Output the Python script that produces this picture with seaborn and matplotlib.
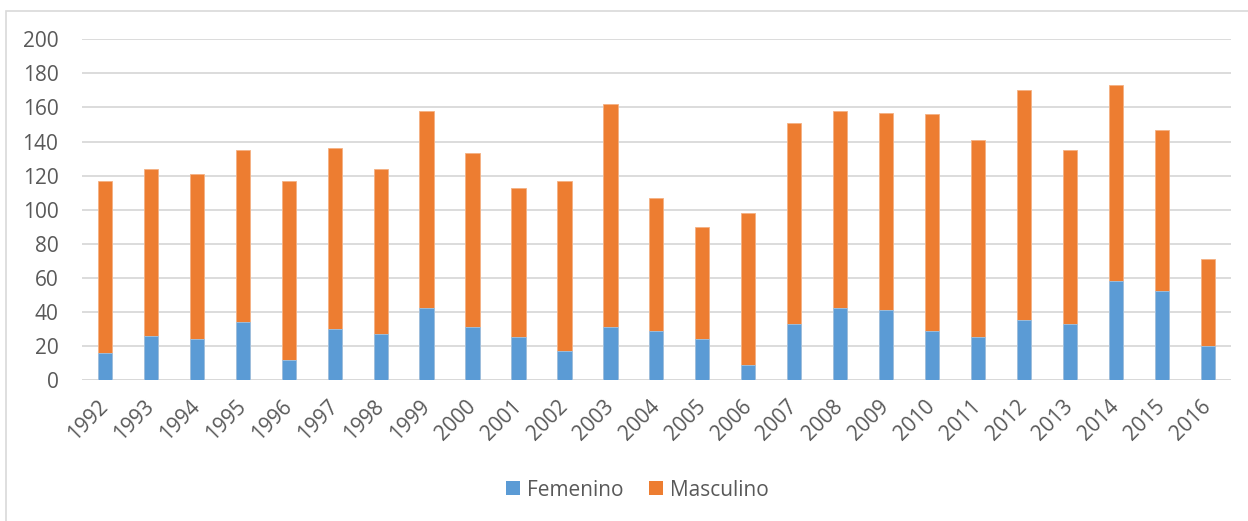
import pandas as pd
import matplotlib.pyplot as plt
import seaborn as sns
from matplotlib.patches import Rectangle, Patch

sns.set_theme(style="white")
plt.rcParams['font.family'] = ['Open Sans', 'DejaVu Sans']

# Data
years = [str(y) for y in range(1992, 2017)]
femenino = [16, 26, 24, 34, 12, 30, 27, 42, 31, 25, 17, 31, 29, 24, 9,
            33, 42, 41, 29, 25, 35, 33, 58, 52, 20]
total = [117, 124, 121, 135, 117, 136, 124, 158, 133, 113, 117, 162, 107, 90, 98,
         151, 158, 157, 156, 141, 170, 135, 173, 147, 71]
masculino = [t - f for t, f in zip(total, femenino)]

df = pd.DataFrame({'year': years, 'Femenino': femenino, 'Masculino': masculino})
df['total'] = df['Femenino'] + df['Masculino']

blue = '#5B9BD5'
orange = '#ED7D31'
text_col = '#595959'
grid_col = '#D9D9D9'

W, H = 1248, 521
fig = plt.figure(figsize=(W / 100, H / 100), dpi=100)
ax = fig.add_axes([82 / W, 1 - 380 / H, (1230.7 - 82) / W, (380 - 39.3) / H])

# stacked bars: total (orange) underneath, femenino (blue) on top
sns.barplot(data=df, x='year', y='total', color=orange, width=0.31,
            saturation=1, ax=ax, edgecolor='#F4B183', linewidth=0.6)
sns.barplot(data=df, x='year', y='Femenino', color=blue, width=0.31,
            saturation=1, ax=ax, edgecolor='#9DC3E6', linewidth=0.6)

ax.set_ylim(0, 200)
ax.set_xlim(-0.5, len(years) - 0.5)
ax.set_yticks(range(0, 201, 20))
ax.yaxis.grid(True, color=grid_col, linewidth=1.3)
ax.set_axisbelow(True)
for s in ax.spines.values():
    s.set_visible(False)
ax.axhline(0, color=grid_col, linewidth=1.3, zorder=0.5)
ax.set_xlabel('')
ax.set_ylabel('')
ax.tick_params(axis='y', length=0, pad=17, labelsize=15, labelcolor=text_col)
ax.tick_params(axis='x', length=0, pad=17, labelsize=15, labelcolor=text_col)
plt.setp(ax.get_xticklabels(), rotation=45, ha='right', va='center',
         rotation_mode='anchor')

handles = [Patch(facecolor=blue, edgecolor='none', label='Femenino'),
           Patch(facecolor=orange, edgecolor='none', label='Masculino')]
fig.legend(handles=handles, loc='center', bbox_to_anchor=(637.5 / W, 1 - 490 / H),
           ncol=2, frameon=False, fontsize=15, labelcolor=text_col,
           handlelength=0.66, handleheight=0.66, handletextpad=0.35,
           columnspacing=1.2)

# outer chart border
fig.patches.append(Rectangle((5.5 / W, -0.1), 1.2, 1.1 - 10.7 / H,
                             transform=fig.transFigure, fill=False,
                             edgecolor=grid_col, linewidth=1.2))

fig.savefig('out.png', dpi=100)
